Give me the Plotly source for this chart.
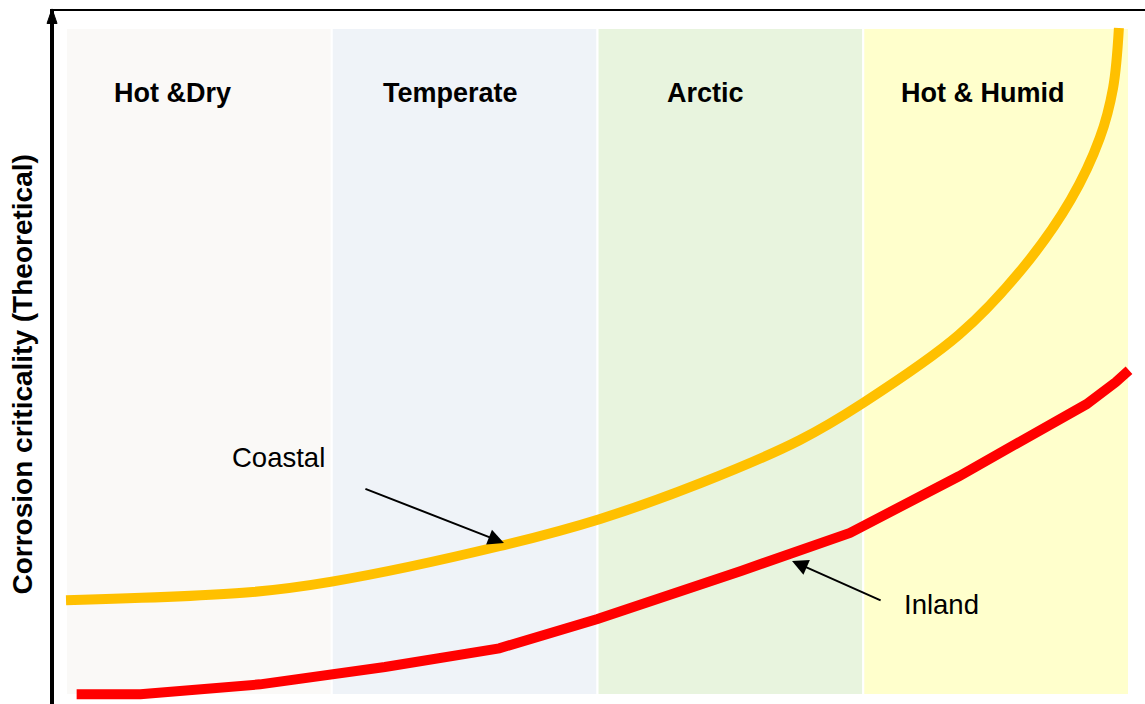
import plotly.graph_objects as go

# Climate zones shown as vertical bands (one unit wide each)
zones = ["Hot &Dry", "Temperate", "Arctic", "Hot & Humid"]
zone_colors = ["#FAF9F7", "#EFF3F8", "#E8F4DE", "#FFFFCC"]
zone_label_x = [0.40, 1.445, 2.405, 3.447]
zone_label_y = 9.03

# Theoretical corrosion criticality curves
coastal_x = [0.00, 0.69, 1.00, 1.63, 2.01, 2.39, 2.76, 3.00, 3.36, 3.60, 3.78, 3.89, 3.94, 3.962]
coastal_y = [1.42, 1.54, 1.70, 2.23, 2.64, 3.18, 3.82, 4.38, 5.40, 6.40, 7.42, 8.35, 9.10, 10.00]

inland_x = [0.04, 0.28, 0.73, 1.20, 1.63, 2.00, 2.54, 2.95, 3.36, 3.84, 3.95, 4.00]
inland_y = [0.01, 0.01, 0.16, 0.42, 0.70, 1.14, 1.86, 2.43, 3.28, 4.36, 4.69, 4.87]

FONT = "Arial, Liberation Sans, sans-serif"

fig = go.Figure()

fig.add_trace(go.Scatter(
    x=coastal_x, y=coastal_y, mode="lines", name="Coastal",
    line=dict(color="#FFC000", width=10, shape="spline", smoothing=1.0),
    hoverinfo="skip",
))
fig.add_trace(go.Scatter(
    x=inland_x, y=inland_y, mode="lines", name="Inland",
    line=dict(color="#FF0000", width=10, shape="linear"),
    hoverinfo="skip",
))

# Background bands
for i, col in enumerate(zone_colors):
    fig.add_shape(type="rect", x0=i, x1=i + 1, y0=0, y1=10,
                  xref="x", yref="y", fillcolor=col,
                  line=dict(color="white", width=2), layer="below")

# Arrow tip on top of the vertical axis
fig.add_shape(type="path", xref="paper", yref="paper",
              path="M -0.0064,0.982 L -0.0018,1.003 L 0.0028,0.982 Z",
              fillcolor="black", line=dict(color="black", width=1))

annotations = []
for name, lx in zip(zones, zone_label_x):
    annotations.append(dict(
        x=lx, y=zone_label_y, xref="x", yref="y", text=f"<b>{name}</b>",
        showarrow=False, font=dict(family=FONT, size=27, color="black"),
        xanchor="center", yanchor="middle"))

# Curve labels with pointers
annotations.append(dict(x=0.798, y=3.56, xref="x", yref="y", text="Coastal",
                        showarrow=False, font=dict(family=FONT, size=27.5, color="black")))
annotations.append(dict(x=1.648, y=2.28, ax=1.121, ay=3.10, xref="x", yref="y",
                        axref="x", ayref="y", text="", showarrow=True,
                        arrowhead=2, arrowsize=1.6, arrowwidth=2, arrowcolor="black",
                        standoff=0, startstandoff=0))
annotations.append(dict(x=3.296, y=1.35, xref="x", yref="y", text="Inland",
                        showarrow=False, font=dict(family=FONT, size=27.5, color="black")))
annotations.append(dict(x=2.732, y=2.01, ax=3.071, ay=1.41, xref="x", yref="y",
                        axref="x", ayref="y", text="", showarrow=True,
                        arrowhead=2, arrowsize=1.6, arrowwidth=2, arrowcolor="black",
                        standoff=0, startstandoff=0))

# Vertical axis title
annotations.append(dict(x=-0.029, y=0.476, xref="paper", yref="paper",
                        text="<b>Corrosion criticality (Theoretical)</b>",
                        textangle=-90, showarrow=False,
                        font=dict(family=FONT, size=28, color="black"),
                        xanchor="center", yanchor="middle"))

fig.update_layout(
    width=1145, height=704,
    margin=dict(l=54, r=0, t=11, b=0),
    paper_bgcolor="white", plot_bgcolor="white",
    showlegend=False,
    annotations=annotations,
    xaxis=dict(range=[-0.0452, 4.0602], side="top", showline=True,
               linecolor="black", linewidth=2, showgrid=False, zeroline=False,
               showticklabels=False, ticks=""),
    yaxis=dict(range=[-0.1349, 10.2549], showline=True, linecolor="black",
               linewidth=4, showgrid=False, zeroline=False,
               showticklabels=False, ticks=""),
)

fig.write_html("out.html")
